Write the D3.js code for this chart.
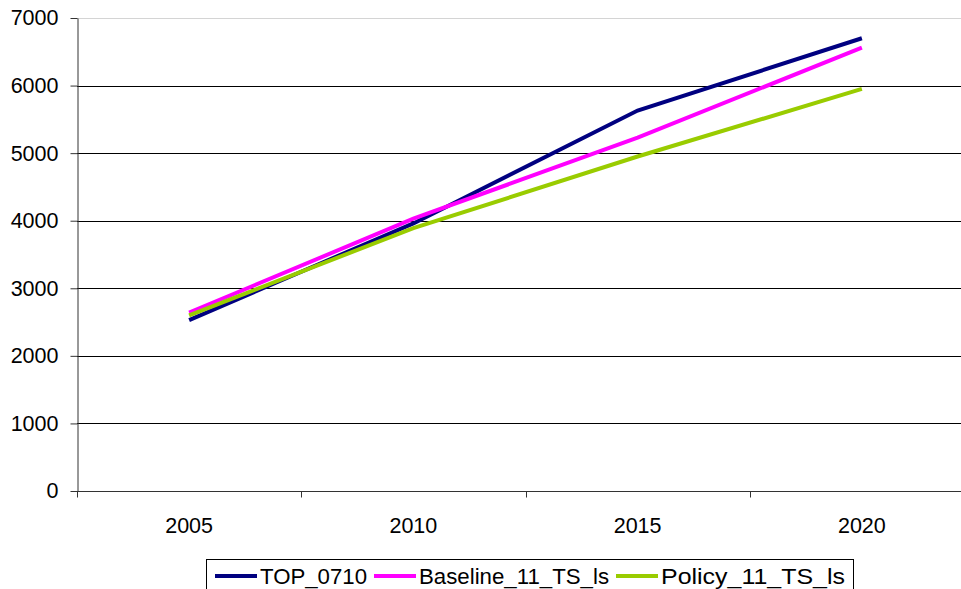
<!DOCTYPE html>
<html>
<head>
<meta charset="utf-8">
<script src="https://cdn.jsdelivr.net/npm/d3@7"></script>
<style>
  html, body { margin: 0; padding: 0; background: #fff; }
  svg { display: block; font-family: "Liberation Sans", Arial, sans-serif; }
</style>
</head>
<body>
<svg id="chart" width="961" height="589"></svg>
<script>
// Projection years and series values
const years = ["2005", "2010", "2015", "2020"];
const top0710 = [2530, 3960, 5630, 6700];
const baseline11 = [2640, 4030, 5230, 6560];
const policy11 = [2600, 3890, 4950, 5950];
const yTicks = [0, 1000, 2000, 3000, 4000, 5000, 6000, 7000];

const seriesNames = ["TOP_0710", "Baseline_11_TS_ls", "Policy_11_TS_ls"];
const seriesColors = ["#000080", "#ff00ff", "#99cc00"];
const series = [top0710, baseline11, policy11];

const svg = d3.select("#chart");
const plotLeft = 77, plotRight = 974, plotTop = 18, plotBottom = 491;

const x = d3.scaleBand().domain(years).range([plotLeft, plotRight]);
const y = d3.scaleLinear().domain([0, 7000]).range([plotBottom, plotTop]);

// Horizontal gridlines
svg.append("g")
  .selectAll("line")
  .data(yTicks.filter(d => d > 0))
  .join("line")
  .attr("x1", plotLeft).attr("x2", 961)
  .attr("y1", d => Math.round(y(d)) + 0.5)
  .attr("y2", d => Math.round(y(d)) + 0.5)
  .attr("stroke", d => d === 7000 ? "#d4d4d4" : "#000")
  .attr("stroke-width", 1);

// Y axis
const yAxis = d3.axisLeft(y).tickValues(yTicks).tickFormat(d3.format("d"))
  .tickSize(7).tickPadding(12).tickSizeOuter(0);
const gy = svg.append("g").attr("transform", `translate(${plotLeft + 0.5},0)`).call(yAxis);
gy.select(".domain").attr("stroke", "#333");
gy.selectAll(".tick line").attr("stroke", "#333");
gy.selectAll(".tick text").attr("font-size", 21.5).attr("fill", "#000")
  .attr("font-family", "Liberation Sans, Arial, sans-serif");

// X axis: ticks at category boundaries, labels centred in each band
const gx = svg.append("g").attr("transform", `translate(0,${Math.round(plotBottom) + 0.5})`);
gx.append("line").attr("x1", plotLeft).attr("x2", 961).attr("stroke", "#333");
const boundaries = years.map(d => x(d)).concat([x.range()[1]]);
gx.selectAll("line.tk").data(boundaries).join("line").attr("class", "tk")
  .attr("x1", d => Math.round(d) + 0.5).attr("x2", d => Math.round(d) + 0.5)
  .attr("y1", 0).attr("y2", 6).attr("stroke", "#333");
gx.selectAll("text").data(years).join("text")
  .attr("x", d => x(d) + x.bandwidth() / 2)
  .attr("y", 41)
  .attr("text-anchor", "middle")
  .attr("font-size", 21.5)
  .text(d => d);

// Series lines
const line = d3.line()
  .x((d, i) => x(years[i]) + x.bandwidth() / 2)
  .y(d => y(d));

svg.append("g").selectAll("path")
  .data(series)
  .join("path")
  .attr("d", d => line(d))
  .attr("fill", "none")
  .attr("stroke", (d, i) => seriesColors[i])
  .attr("stroke-width", 4);

// Legend
const lg = svg.append("g");
lg.append("rect").attr("x", 206.5).attr("y", 559.5).attr("width", 647).attr("height", 40)
  .attr("fill", "#fff").attr("stroke", "#000");
const legendX = [215, 374, 616];
const legendTextWidth = [107, 190, 184];
seriesNames.forEach((name, i) => {
  lg.append("line").attr("x1", legendX[i]).attr("x2", legendX[i] + 42)
    .attr("y1", 576).attr("y2", 576)
    .attr("stroke", seriesColors[i]).attr("stroke-width", 4);
  lg.append("text").attr("x", legendX[i] + 45).attr("y", 584)
    .attr("font-size", 22)
    .attr("textLength", legendTextWidth[i])
    .attr("lengthAdjust", "spacingAndGlyphs")
    .text(name);
});
</script>
</body>
</html>
